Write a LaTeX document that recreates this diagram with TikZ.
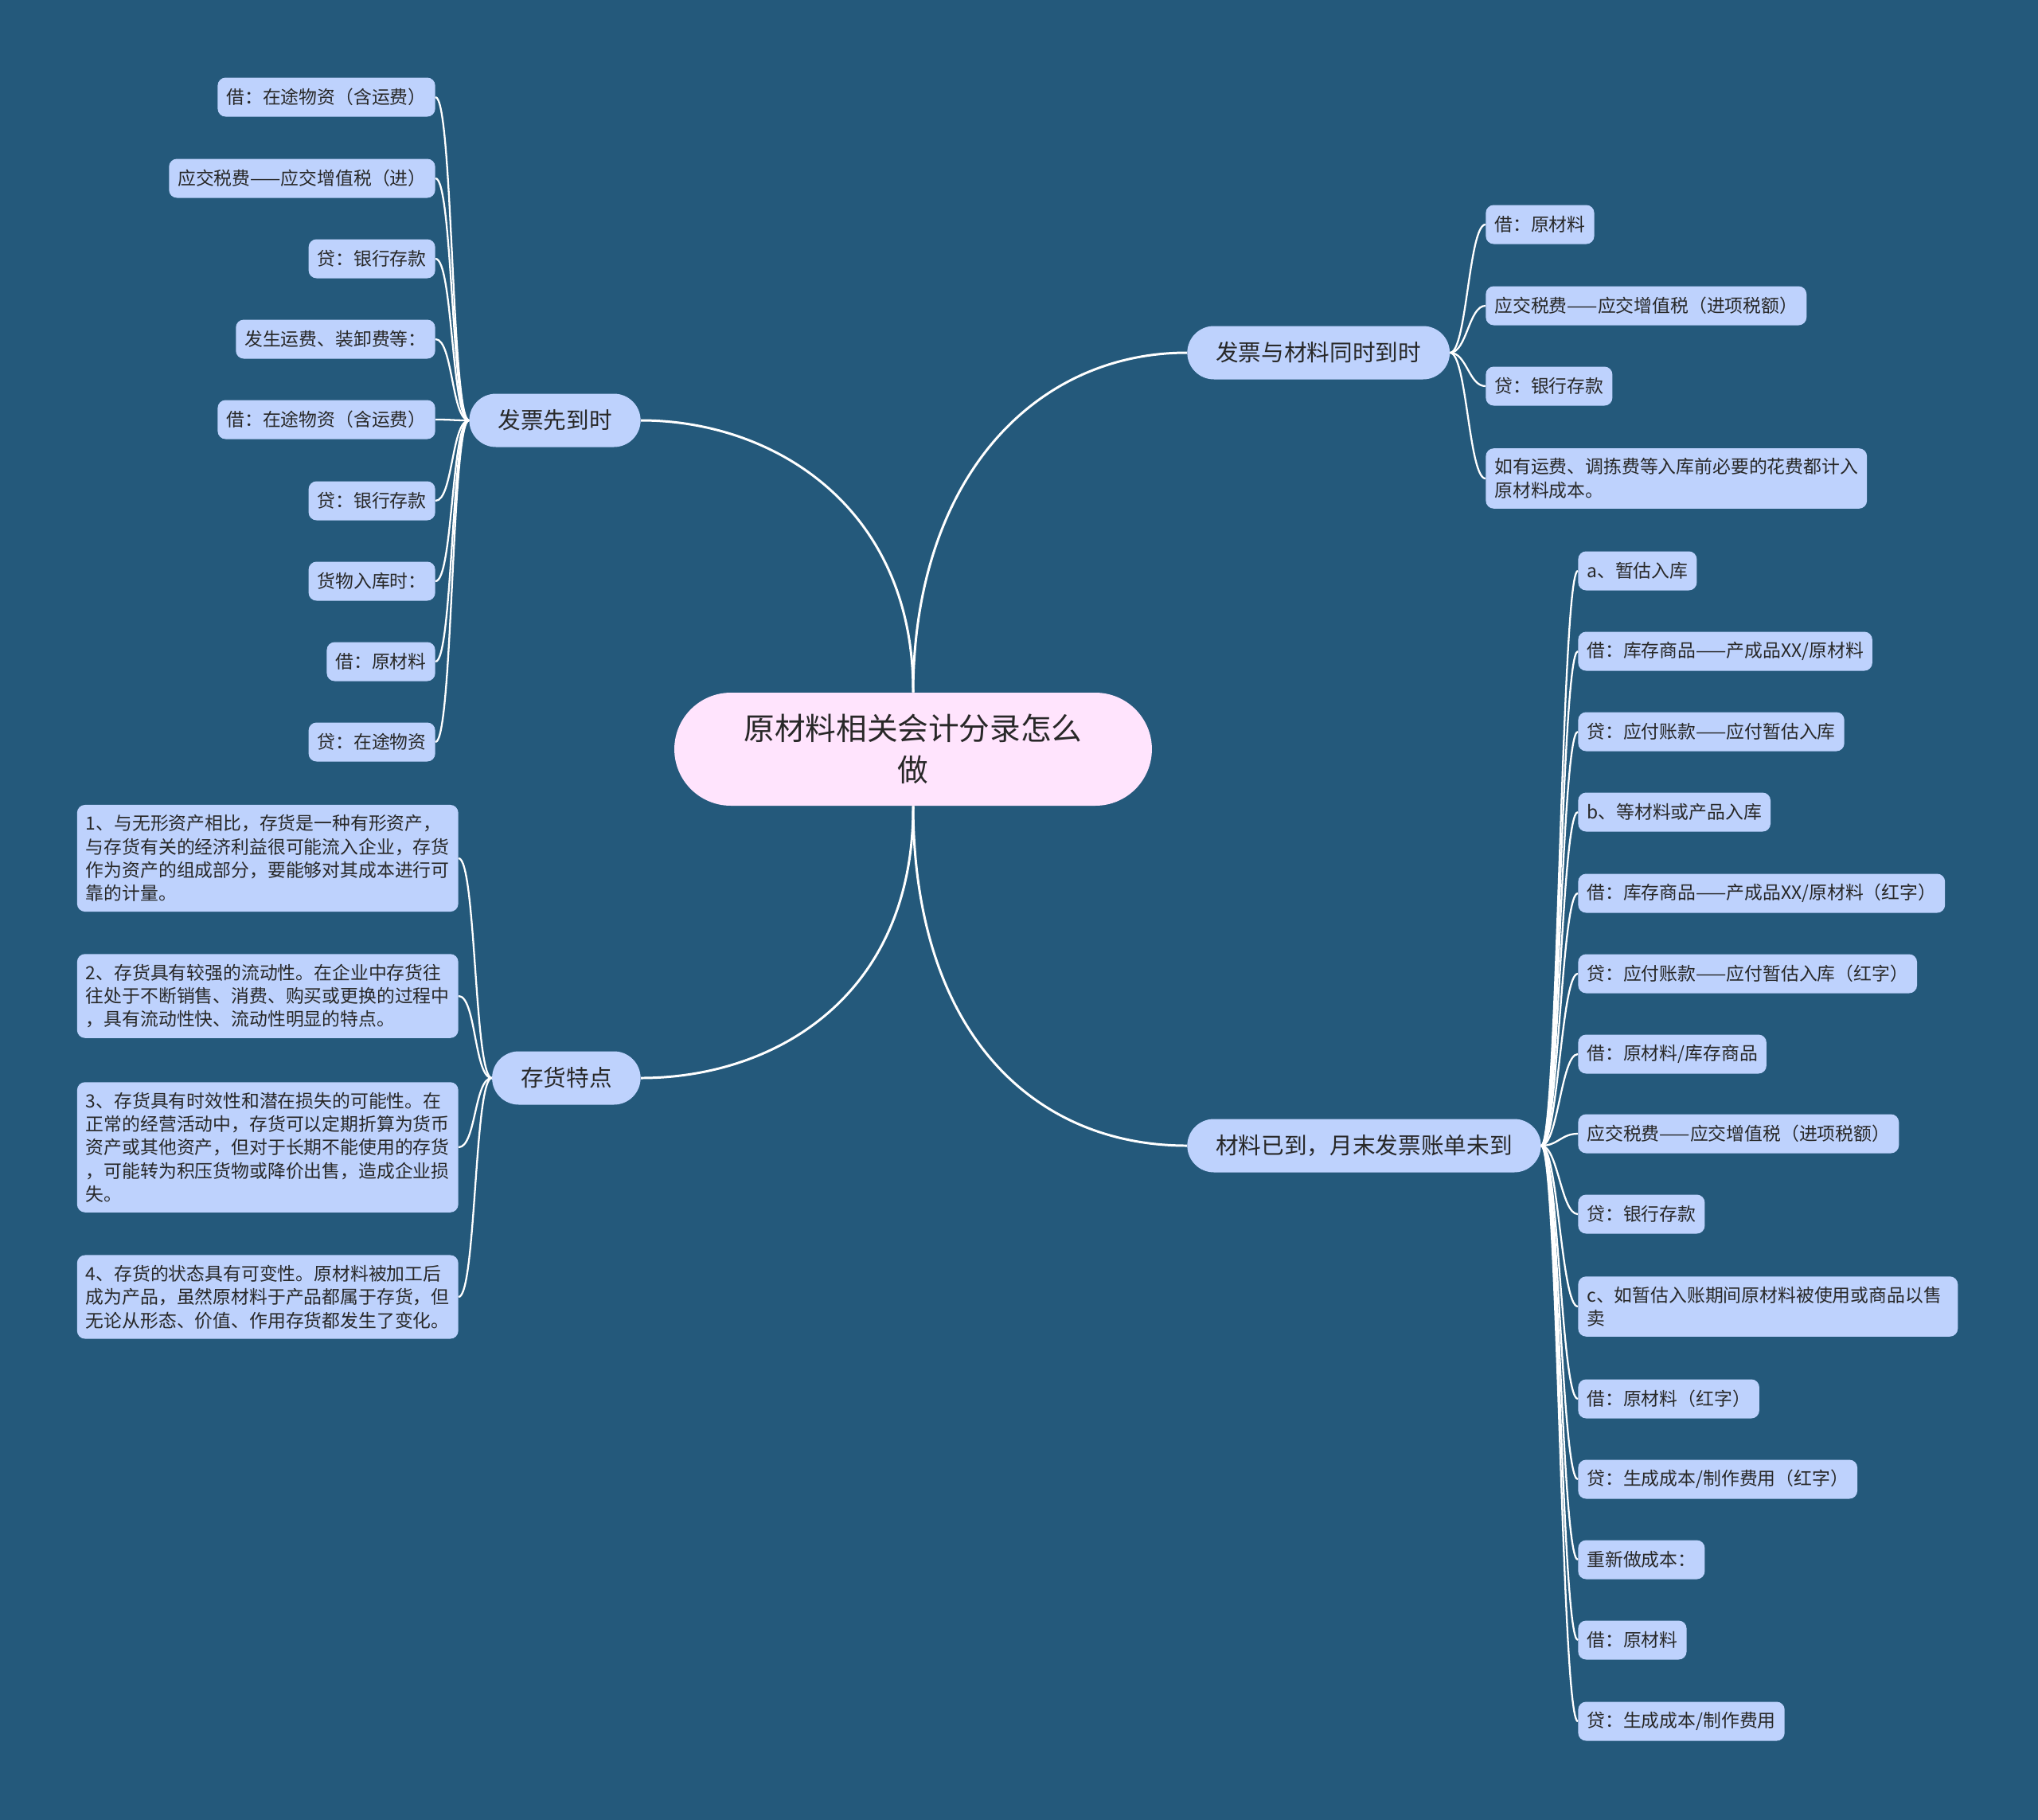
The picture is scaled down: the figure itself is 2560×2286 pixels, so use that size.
\documentclass[tikz,border=0pt]{standalone}
\usepackage{fontspec}
\setmainfont{Noto Sans CJK SC}
\usepackage{xcolor}
\usepackage{tikz}
\usetikzlibrary{calc}
\definecolor{bgblue}{RGB}{36,89,123}
\definecolor{leafblue}{RGB}{190,210,253}
\definecolor{rootpink}{RGB}{255,228,253}
\definecolor{inkdark}{RGB}{40,40,40}

\begin{document}
\begin{tikzpicture}[
    x=0.02cm, y=-0.02cm,
    root/.style={fill=rootpink, rounded corners=1.42cm, minimum width=12cm, minimum height=2.84cm,
                align=center, text=inkdark, font=\fontsize{22}{29.7}\selectfont},
    topic/.style={fill=leafblue, rounded corners=0.67cm, minimum height=1.34cm, inner xsep=0.72cm,
                text=inkdark, font=\fontsize{16.3}{20}\selectfont},
    leaf/.style={fill=leafblue, rounded corners=0.2cm, minimum height=0.98cm, inner xsep=0.22cm,
                inner ysep=0.25cm, align=left, text=inkdark, font=\fontsize{13}{16.7}\selectfont},
    link/.style={draw=white, line width=1.7pt},
    sublink/.style={draw=white, line width=1.3pt},
    toleft/.style={to path={.. controls +(-22,0) and +(22,0) .. (\tikztotarget)}},
    toright/.style={to path={.. controls +(21,0) and +(-21,0) .. (\tikztotarget)}}
]
\fill[bgblue] (0,0) rectangle (2560,2286);
\useasboundingbox (0,0) rectangle (2560,2286);

% centre and main topics
\node[root] (root) at (1147,941) {原材料相关会计分录怎么\\做};
\node[topic, anchor=east] (fp) at (805,528) {发票先到时};
\node[topic, anchor=west] (ts) at (1491,443) {发票与材料同时到时};
\node[topic, anchor=east] (ch) at (805,1354) {存货特点};
\node[topic, anchor=west] (cl) at (1491,1439) {材料已到，月末发票账单未到};

\draw[link] (root.north) .. controls (1148,640) and (975,528) .. (fp.east);
\draw[link] (root.north) .. controls (1148,600) and (1300,443) .. (ts.west);
\draw[link] (root.south) .. controls (1148,1250) and (975,1354) .. (ch.east);
\draw[link] (root.south) .. controls (1148,1300) and (1300,1439) .. (cl.west);

% 发票先到时
\node[leaf, anchor=east] (fp1) at (547,122) {借：在途物资（含运费）};
\node[leaf, anchor=east] (fp2) at (547,224) {应交税费——应交增值税（进）};
\node[leaf, anchor=east] (fp3) at (547,325) {贷：银行存款};
\node[leaf, anchor=east] (fp4) at (547,426) {发生运费、装卸费等：};
\node[leaf, anchor=east] (fp5) at (547,527) {借：在途物资（含运费）};
\node[leaf, anchor=east] (fp6) at (547,629) {贷：银行存款};
\node[leaf, anchor=east] (fp7) at (547,730) {货物入库时：};
\node[leaf, anchor=east] (fp8) at (547,831) {借：原材料};
\node[leaf, anchor=east] (fp9) at (547,932) {贷：在途物资};
\foreach \n in {1,...,9}
  \draw[sublink, toleft] (fp.west) to (fp\n.east);

% 发票与材料同时到时
\node[leaf, anchor=west] (ts1) at (1866,282) {借：原材料};
\node[leaf, anchor=west] (ts2) at (1866,384) {应交税费——应交增值税（进项税额）};
\node[leaf, anchor=west] (ts3) at (1866,485) {贷：银行存款};
\node[leaf, anchor=west] (ts4) at (1866,601) {如有运费、调拣费等入库前必要的花费都计入\\原材料成本。};
\foreach \n in {1,...,4}
  \draw[sublink, toright] (ts.east) to (ts\n.west);

% 存货特点
\node[leaf, anchor=east] (ch1) at (576,1078) {1、与无形资产相比，存货是一种有形资产，\\与存货有关的经济利益很可能流入企业，存货\\作为资产的组成部分，要能够对其成本进行可\\靠的计量。};
\node[leaf, anchor=east] (ch2) at (576,1251) {2、存货具有较强的流动性。在企业中存货往\\往处于不断销售、消费、购买或更换的过程中\\，具有流动性快、流动性明显的特点。};
\node[leaf, anchor=east] (ch3) at (576,1441) {3、存货具有时效性和潜在损失的可能性。在\\正常的经营活动中，存货可以定期折算为货币\\资产或其他资产，但对于长期不能使用的存货\\，可能转为积压货物或降价出售，造成企业损\\失。};
\node[leaf, anchor=east] (ch4) at (576,1629) {4、存货的状态具有可变性。原材料被加工后\\成为产品，虽然原材料于产品都属于存货，但\\无论从形态、价值、作用存货都发生了变化。};
\foreach \n in {1,...,4}
  \draw[sublink, toleft] (ch.west) to (ch\n.east);

% 材料已到，月末发票账单未到
\node[leaf, anchor=west] (cl1) at (1982,717) {a、暂估入库};
\node[leaf, anchor=west] (cl2) at (1982,818) {借：库存商品——产成品XX/原材料};
\node[leaf, anchor=west] (cl3) at (1982,919) {贷：应付账款——应付暂估入库};
\node[leaf, anchor=west] (cl4) at (1982,1020) {b、等材料或产品入库};
\node[leaf, anchor=west] (cl5) at (1982,1122) {借：库存商品——产成品XX/原材料（红字）};
\node[leaf, anchor=west] (cl6) at (1982,1223) {贷：应付账款——应付暂估入库（红字）};
\node[leaf, anchor=west] (cl7) at (1982,1324) {借：原材料/库存商品};
\node[leaf, anchor=west] (cl8) at (1982,1424) {应交税费——应交增值税（进项税额）};
\node[leaf, anchor=west] (cl9) at (1982,1525) {贷：银行存款};
\node[leaf, anchor=west, text width=9.1cm] (cl10) at (1982,1641) {c、如暂估入账期间原材料被使用或商品以售\\卖};
\node[leaf, anchor=west] (cl11) at (1982,1757) {借：原材料（红字）};
\node[leaf, anchor=west] (cl12) at (1982,1858) {贷：生成成本/制作费用（红字）};
\node[leaf, anchor=west] (cl13) at (1982,1959) {重新做成本：};
\node[leaf, anchor=west] (cl14) at (1982,2060) {借：原材料};
\node[leaf, anchor=west] (cl15) at (1982,2162) {贷：生成成本/制作费用};
\foreach \n in {1,...,15}
  \draw[sublink, toright] (cl.east) to (cl\n.west);
\end{tikzpicture}
\end{document}
